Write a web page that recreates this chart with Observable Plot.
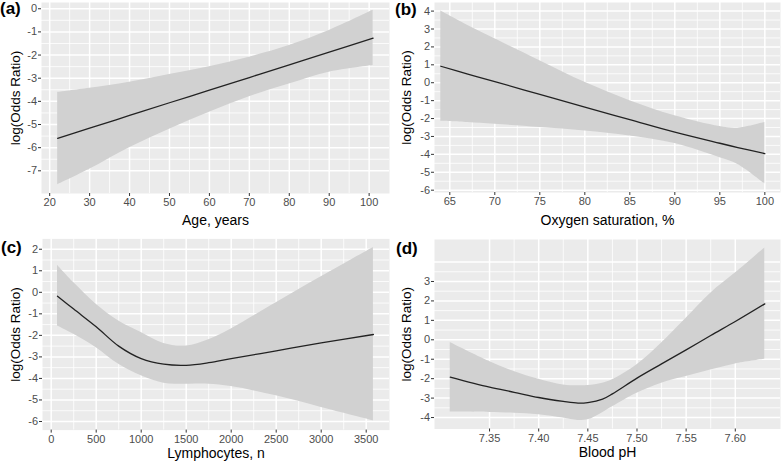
<!DOCTYPE html>
<html>
<head>
<meta charset="utf-8">
<script src="https://cdn.jsdelivr.net/npm/d3@7"></script>
<script src="https://cdn.jsdelivr.net/npm/@observablehq/plot@0.6"></script>
<style>
  html, body { margin: 0; padding: 0; background: #fff; }
  #wrap { position: relative; width: 782px; height: 465px; overflow: hidden; font-family: "Liberation Sans", Arial, sans-serif; }
  .cell { position: absolute; }
  .tag { position: absolute; font-weight: bold; font-size: 17px; line-height: 19px; color: #000; }
</style>
</head>
<body>
<div id="wrap"></div>
<script>
// ---------- Data ----------
// (a) Age
const ageX   = [22, 30, 40, 50, 60, 70, 80, 90, 101];
const ageFit = [-5.60, -5.16, -4.61, -4.06, -3.52, -2.97, -2.42, -1.87, -1.27];
const ageLo  = [-7.60, -6.93, -6.00, -5.20, -4.47, -3.80, -3.25, -2.74, -2.45];
const ageHi  = [-3.61, -3.43, -3.17, -2.84, -2.50, -2.09, -1.59, -0.94, -0.07];
const ageXTicks = [20, 30, 40, 50, 60, 70, 80, 90, 100];
const ageYTicks = [-7, -6, -5, -4, -3, -2, -1, 0];

// (b) Oxygen saturation
const oxyX   = [64, 67, 70, 75, 80, 85, 90, 95, 97, 100];
const oxyFit = [0.92, 0.48, 0.06, -0.65, -1.36, -2.06, -2.76, -3.38, -3.62, -3.96];
const oxyLo  = [-2.15, -2.22, -2.32, -2.50, -2.69, -2.97, -3.40, -4.19, -4.56, -5.65];
const oxyHi  = [4.00, 3.20, 2.45, 1.23, 0.02, -1.00, -1.85, -2.45, -2.54, -2.22];
const oxyXTicks = [65, 70, 75, 80, 85, 90, 95, 100];
const oxyYTicks = [-6, -5, -4, -3, -2, -1, 0, 1, 2, 3, 4];

// (c) Lymphocytes
const lymX   = [70, 250, 500, 750, 1000, 1250, 1500, 1750, 2000, 2500, 3000, 3580];
const lymFit = [-0.18, -0.78, -1.60, -2.50, -3.08, -3.34, -3.39, -3.27, -3.08, -2.72, -2.35, -1.96];
const lymLo  = [-1.56, -1.95, -2.57, -3.34, -3.88, -4.22, -4.27, -4.27, -4.38, -4.81, -5.35, -5.97];
const lymHi  = [1.26, 0.45, -0.55, -1.33, -1.87, -2.38, -2.49, -2.20, -1.70, -0.48, 0.72, 2.08];
const lymXTicks = [0, 500, 1000, 1500, 2000, 2500, 3000, 3500];
const lymYTicks = [-6, -5, -4, -3, -2, -1, 0, 1, 2];

// (d) Blood pH
const phX   = [7.31, 7.35, 7.375, 7.40, 7.425, 7.44, 7.45, 7.465, 7.475, 7.50, 7.525, 7.55, 7.575, 7.60, 7.63];
const phFit = [-1.92, -2.44, -2.70, -2.97, -3.17, -3.26, -3.23, -3.05, -2.78, -1.97, -1.24, -0.52, 0.22, 0.94, 1.85];
const phLo  = [-3.72, -3.74, -3.78, -3.86, -4.03, -4.15, -4.12, -3.75, -3.45, -2.75, -2.23, -1.89, -1.55, -1.24, -1.00];
const phHi  = [-0.14, -1.12, -1.63, -2.03, -2.32, -2.36, -2.35, -2.23, -2.06, -1.29, -0.17, 1.11, 2.40, 3.43, 4.72];
const phXTicks = [7.35, 7.40, 7.45, 7.50, 7.55, 7.60];
const phYTicks = [-4, -3, -2, -1, 0, 1, 2, 3];
const phYGrid  = [-4, -3, -2, -1, 0, 1, 2, 3, 4];

const yTitle = "log(Odds Ratio)";

// ---------- helpers ----------
function mids(arr) {
  const out = [];
  for (let i = 0; i < arr.length - 1; i++) out.push((arr[i] + arr[i + 1]) / 2);
  return out;
}

const wrap = document.getElementById("wrap");

function panel(cfg) {
  const data = cfg.x.map((x, i) => ({x, fit: cfg.fit[i], lo: cfg.lo[i], hi: cfg.hi[i]}));
  const yGrid = cfg.yGrid || cfg.yTicks;
  const xMinor = mids(cfg.xTicks);
  const yMinor = mids(yGrid);
  const m = cfg.m;
  const chart = Plot.plot({
    width: 391,
    height: cfg.h,
    marginLeft: m[3], marginRight: m[1], marginTop: m[0], marginBottom: m[2],
    style: {background: "transparent", fontFamily: "'Liberation Sans', Arial, sans-serif", overflow: "visible"},
    x: {domain: cfg.xDomain},
    y: {domain: cfg.yDomain},
    marks: [
      Plot.frame({fill: "#EBEBEB", stroke: "none"}),
      Plot.ruleX(xMinor, {stroke: "#fff", strokeWidth: 0.8}),
      Plot.ruleY(yMinor, {stroke: "#fff", strokeWidth: 0.8}),
      Plot.ruleX(cfg.xTicks, {stroke: "#fff", strokeWidth: 1.5}),
      Plot.ruleY(yGrid, {stroke: "#fff", strokeWidth: 1.5}),
      Plot.areaY(data, {x: "x", y1: "lo", y2: "hi", fill: "#D1D1D1", curve: "catmull-rom"}),
      Plot.line(data, {x: "x", y: "fit", stroke: "#222", strokeWidth: 1.3, curve: "catmull-rom"}),
      Plot.axisX(cfg.xTicks, {tickSize: 3, tickPadding: 2, fontSize: 11, fill: "#4D4D4D", stroke: "#333",
        tickFormat: cfg.xFormat, label: null}),
      Plot.axisY(cfg.yTicks, {tickSize: 3, tickPadding: 1.5, fontSize: 11, fill: "#4D4D4D", stroke: "#333",
        tickFormat: d => String(d), label: null}),
      Plot.text([cfg.xLabel], {text: d => d, frameAnchor: "bottom", dy: cfg.xTitleDy, lineAnchor: "middle",
        fontSize: 14, fill: "#000"}),
      Plot.text([yTitle], {text: d => d, frameAnchor: "left", dx: -(m[3] - 15), rotate: -90, lineAnchor: "middle",
        textAnchor: "middle", fontSize: 13.5, fill: "#000"})
    ]
  });
  const cell = document.createElement("div");
  cell.className = "cell";
  cell.style.left = cfg.left + "px";
  cell.style.top = cfg.top + "px";
  cell.appendChild(chart);
  wrap.appendChild(cell);
  const tag = document.createElement("div");
  tag.className = "tag";
  tag.textContent = cfg.tag;
  tag.style.left = cfg.tagPos[0] + "px";
  tag.style.top = cfg.tagPos[1] + "px";
  wrap.appendChild(tag);
}

panel({
  tag: "(a)", tagPos: [0, -1], left: 0, top: 0, h: 232, m: [2, 2, 39, 41],
  x: ageX, fit: ageFit, lo: ageLo, hi: ageHi,
  xDomain: [17.95, 105.1], yDomain: [-7.98, 0.27],
  xTicks: ageXTicks, yTicks: ageYTicks,
  xFormat: d => String(d), xLabel: "Age, years", xTitleDy: 27
});

panel({
  tag: "(b)", tagPos: [395, 0], left: 391, top: 0, h: 232, m: [2, 2, 40, 43],
  x: oxyX, fit: oxyFit, lo: oxyLo, hi: oxyHi,
  xDomain: [63.3, 101.74], yDomain: [-6.13, 4.48],
  xTicks: oxyXTicks, yTicks: oxyYTicks,
  xFormat: d => String(d), xLabel: "Oxygen saturation, %", xTitleDy: 28
});

panel({
  tag: "(c)", tagPos: [1, 238], left: 0, top: 232, h: 233, m: [6.4, 2, 35.4, 42],
  x: lymX, fit: lymFit, lo: lymLo, hi: lymHi,
  xDomain: [-96.7, 3759], yDomain: [-6.4, 2.48],
  xTicks: lymXTicks, yTicks: lymYTicks,
  xFormat: d => String(d), xLabel: "Lymphocytes, n", xTitleDy: 23
});

panel({
  tag: "(d)", tagPos: [396, 239], left: 391, top: 232, h: 233, m: [7, 2, 36.5, 43],
  x: phX, fit: phFit, lo: phLo, hi: phHi,
  xDomain: [7.294, 7.646], yDomain: [-4.59, 5.16],
  xTicks: phXTicks, yTicks: phYTicks, yGrid: phYGrid,
  xFormat: d3.format(".2f"), xLabel: "Blood pH", xTitleDy: 24
});
</script>
</body>
</html>
